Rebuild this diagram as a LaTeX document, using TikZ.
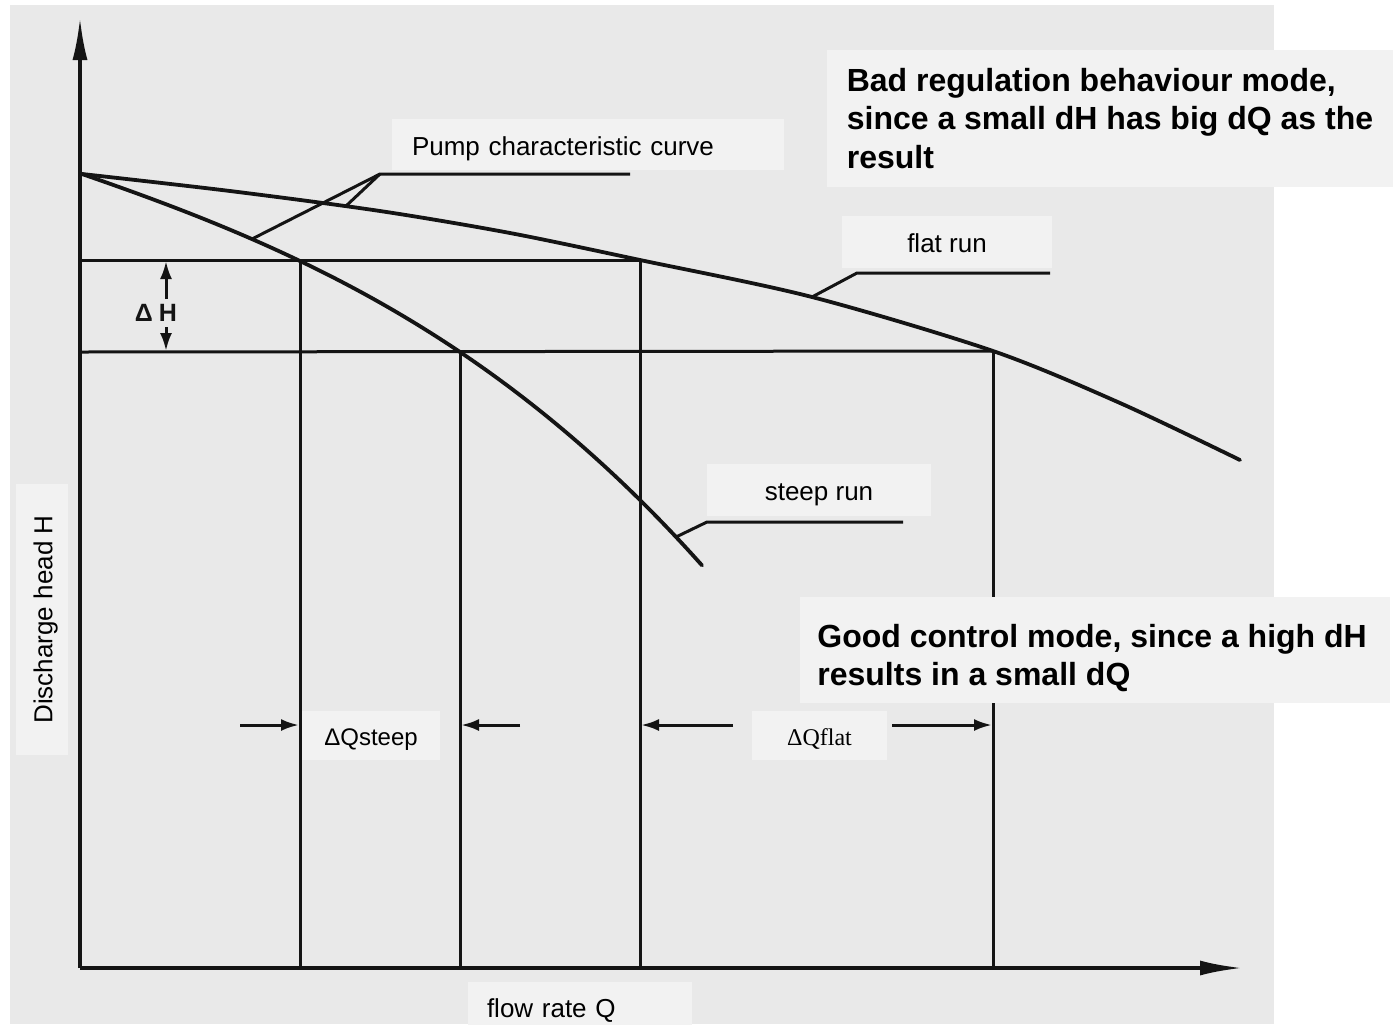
\documentclass[tikz,border=0pt]{standalone}
\usepackage{fontspec}
\setmainfont{Liberation Sans}
\newfontfamily\seriffont{Liberation Serif}
\usetikzlibrary{arrows.meta}
\definecolor{bggray}{HTML}{E9E9E9}
\definecolor{boxgray}{HTML}{F2F2F2}
\definecolor{ink}{HTML}{141414}
\begin{document}
\begin{tikzpicture}[x=0.5pt,y=-0.5pt,
  axis/.style={ink, line width=1.7pt, -{Latex[length=21pt,width=7.5pt]}},
  curve/.style={ink, line width=1.9pt, line cap=round, line join=round},
  guide/.style={ink, line width=1.5pt},
  leader/.style={ink, line width=1.5pt, line join=round},
  dim/.style={ink, line width=1.5pt, -{Latex[length=9pt,width=6pt]}},
  lbl/.style={fill=boxgray, inner sep=0pt, font=\fontsize{13pt}{15.6pt}\selectfont, text=black, text height=13.5pt, text depth=3pt},
  small/.style={lbl, text height=12.5pt, text depth=2.8pt},
  big/.style={fill=boxgray, inner sep=0pt, font=\fontsize{16pt}{19.2pt}\selectfont\bfseries, align=left, text=black},
  bigtext/.style={inner sep=0pt, font=\fontsize{16pt}{19.2pt}\selectfont\bfseries, align=left, text=black},
]
\useasboundingbox (0,0) rectangle (1393,1024);
\fill[white] (0,0) rectangle (1393,1024);
\fill[bggray] (10,5) rectangle (1274,1024);

% key points
\coordinate (O) at (80,968);
\coordinate (Ytop) at (80,18);
\coordinate (Xend) at (1242,968);
\coordinate (S0) at (82,174);
\coordinate (U0) at (80,260);
\coordinate (L0) at (80,352);
\coordinate (A1) at (300,261);
\coordinate (A2) at (460,352);
\coordinate (B1) at (640,260);
\coordinate (B2) at (993,351);
\coordinate (A1b) at (300,968);
\coordinate (A2b) at (460,968);
\coordinate (B1b) at (640,968);
\coordinate (B2b) at (993,968);

% guide lines
\draw[guide] (U0) -- (B1);
\draw[guide] (L0) -- (B2);
\draw[guide] (A1) -- (A1b);
\draw[guide] (A2) -- (A2b);
\draw[guide] (B1) -- (B1b);
\draw[guide] (B2) -- (B2b);

% curves
\draw[curve] plot[smooth, tension=0.5] coordinates {(S0) (230,191) (380,211) (510,233) (B1) (812,297) (B2) (1120,403) (1240,460)};
\draw[curve] plot[domain=82:702, samples=80, smooth] (\x, {174 + 34.503*((\x-82)/100) + 1.3206*((\x-82)/100)^2 + 0.53157*((\x-82)/100)^3});

% axes
\draw[axis] (O) -- (Ytop);
\draw[axis] (O) -- (Xend);

% leaders
\coordinate (P0) at (380,174);
\coordinate (P1) at (630,174);
\coordinate (Ps) at (252,239);
\coordinate (Pf) at (346,206);
\draw[leader] (Ps) -- (P0) -- (P1);
\draw[leader] (Pf) -- (P0);
\coordinate (F0) at (857,273);
\coordinate (F1) at (1050,273);
\coordinate (Ff) at (812,297);
\draw[leader] (Ff) -- (F0) -- (F1);
\coordinate (T0) at (707,522);
\coordinate (T1) at (903,522);
\coordinate (Ts) at (676,537);
\draw[leader] (Ts) -- (T0) -- (T1);

% Delta H
\node[font=\fontsize{12.5pt}{14pt}\selectfont\bfseries, text=ink, inner sep=0pt] (dH) at (156,313) {Δ\hspace{3pt}H};
\coordinate (dHa) at (166,299);
\coordinate (dHt) at (166,261);
\coordinate (dHb) at (166,327);
\coordinate (dHl) at (166,351);
\draw[dim] (dHa) -- (dHt);
\draw[dim] (dHb) -- (dHl);

% Delta Q arrows
\coordinate (qs1) at (240,725);
\coordinate (qs1t) at (299,725);
\coordinate (qs2) at (520,725);
\coordinate (qs2t) at (461,725);
\coordinate (qf1) at (733,725);
\coordinate (qf1t) at (641,725);
\coordinate (qf2) at (892,725);
\coordinate (qf2t) at (992,725);
\draw[dim] (qs1) -- (qs1t);
\draw[dim] (qs2) -- (qs2t);
\draw[dim] (qf1) -- (qf1t);
\draw[dim] (qf2) -- (qf2t);

% labels
\node[lbl, minimum width=196pt, minimum height=25.5pt, text width=176pt, inner xsep=10pt, align=left] (pump) at (588,144.5) {Pump characteristic curve};
\node[lbl, minimum width=105pt, minimum height=26pt] (flat) at (947,242) {flat run};
\node[lbl, minimum width=112pt, minimum height=26pt] (steep) at (819,490) {steep run};
\node[big, minimum width=283pt, minimum height=68.5pt] (bad) at (1110,118.5) {Bad regulation behaviour mode,\\since a small dH has big dQ as the\\result};
\node[big, minimum width=295pt, minimum height=53pt] (goodbox) at (1095,650) {};
\node[bigtext, anchor=west] (good) at (817,658) {Good control mode, since a high dH\\results in a small dQ};
\node[small, minimum width=69pt, minimum height=24.5pt, font=\fontsize{12pt}{14pt}\selectfont] (dqs) at (371,735.5) {ΔQsteep};
\node[small, minimum width=67.5pt, minimum height=24.5pt, font=\fontsize{12pt}{14pt}\seriffont] (dqf) at (819.5,735.5) {ΔQflat};
\node[lbl, minimum width=135.5pt, minimum height=26pt, rotate=90] (yl) at (42,619.5) {Discharge head H};
\node[lbl, minimum width=112pt, minimum height=25pt, text width=93pt, inner xsep=9.5pt, align=left] (xl) at (580,1007) {flow rate Q};
\end{tikzpicture}
\end{document}
